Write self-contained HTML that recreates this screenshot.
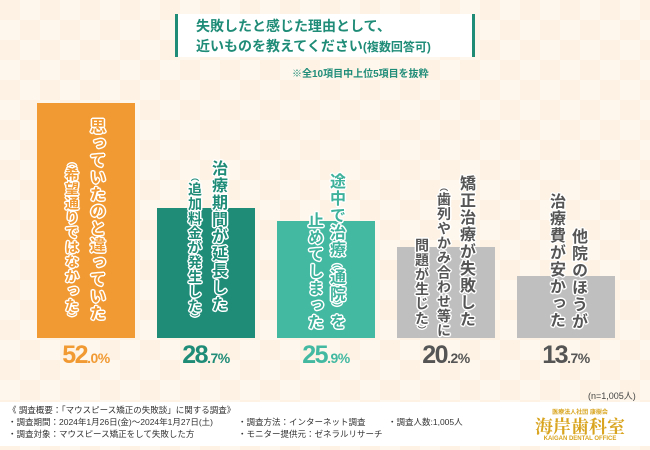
<!DOCTYPE html>
<html><head><meta charset="utf-8"><style>
body{margin:0}
#c{position:relative;width:650px;height:450px;overflow:hidden;background:#fdf2e3;font-family:"Liberation Sans","Noto Sans CJK JP",sans-serif;
background-image:linear-gradient(45deg,rgba(255,255,255,.35) 25%,transparent 25%,transparent 75%,rgba(255,255,255,.35) 75%),linear-gradient(45deg,rgba(255,255,255,.35) 25%,transparent 25%,transparent 75%,rgba(255,255,255,.35) 75%);background-size:40px 40px;background-position:0 0,20px 20px}
.v{position:absolute;writing-mode:vertical-rl;font-weight:bold;white-space:nowrap;line-height:1;
text-shadow:1.5px 0 #fff,-1.5px 0 #fff,0 1.5px #fff,0 -1.5px #fff,1px 1px #fff,-1px -1px #fff,1px -1px #fff,-1px 1px #fff}
.v .p{font-size:60%}
.pct{position:absolute;font-weight:bold;font-size:25px;letter-spacing:-1.5px;text-align:center;width:120px}
.pct small{font-size:14px;letter-spacing:-.5px}
</style></head><body>
<div id="c">
<div style="position:absolute;left:175px;top:14px;width:300px;height:43px;background:#fff;border-left:3px solid #1f8c78;border-right:3px solid #1f8c78;box-sizing:border-box"></div>
<div style="position:absolute;left:196px;top:16px;font-size:14px;font-weight:bold;color:#1f8c78;line-height:20px;white-space:nowrap">失敗したと感じた理由として、<br>近いものを教えてください<span style="font-size:12px">(複数回答可)</span></div>
<div style="position:absolute;left:292px;top:65px;font-size:10px;font-weight:bold;color:#1f8c78">※全10項目中上位5項目を抜粋</div>
<div id="plot"></div>
<div style="position:absolute;left:588px;top:389px;font-size:9px;color:#444">(n=1,005人)</div>
<div style="position:absolute;left:0;top:402px;width:650px;height:44px;background:#fff"></div>
<div style="position:absolute;left:8px;top:404px;font-size:8.5px;line-height:12px;color:#333;white-space:nowrap">《 調査概要：「マウスピース矯正の失敗談」に関する調査》<br>・調査期間：2024年1月26日(金)～2024年1月27日(土)<br>・調査対象：マウスピース矯正をして失敗した方</div>
<div style="position:absolute;left:238px;top:416px;font-size:8.5px;line-height:12px;color:#333;white-space:nowrap">・調査方法：インターネット調査<br>・モニター提供元：ゼネラルリサーチ</div>
<div style="position:absolute;left:388px;top:416px;font-size:8.5px;color:#333">・調査人数:1,005人</div>
<div style="position:absolute;left:520px;top:407px;width:120px;text-align:center;color:#d9a520;font-weight:bold">
<div style="font-size:6px">医療法人社団 康樹会</div><div style="font-size:18px;font-family:'Noto Serif CJK SC',serif;line-height:20px">海岸歯科室</div><div style="font-size:6px">KAIGAN DENTAL OFFICE</div></div>
</div>
<script>
const categories=["思っていたのと違っていた（希望通りではなかった）","治療期間が延長した（追加料金が発生した）","途中で治療（通院）を止めてしまった","矯正治療が失敗した（歯列やかみ合わせ等に問題が生じた）","他院のほうが治療費が安かった"];
const values=[52.0,28.7,25.9,20.2,13.7];
const barColors=["#f19a33","#1f8c78","#43b9a2","#bfbfbf","#bfbfbf"];
const textColors=["#f19a33","#1f8c78","#3fb29c","#555","#555"];
const labelLines=[["思っていたのと違っていた","（希望通りではなかった）"],["治療期間が延長した","（追加料金が発生した）"],["途中で治療（通院）を","止めてしまった"],["矯正治療が失敗した","（歯列やかみ合わせ等に","問題が生じた）"],["他院のほうが","治療費が安かった"]];
const plot=document.getElementById('plot');
const base=338,scale=4.52,x0=37,step=120,bw=98;
const yS=v=>v*scale, xS=i=>x0+i*step;
const lineTops=[[118,158],[160,173],[173,212],[175,183,238],[228,193]];
const lineX=[[95,72],[217,195],[335,313],[465,444,422],[577,555]];
values.forEach((v,i)=>{
 const b=document.createElement('div');
 
 
 const h=yS(v);
 b.style.cssText=`position:absolute;left:${xS(i)}px;top:${base-h}px;width:${bw}px;height:${h}px;background:${barColors[i]}`;
 plot.appendChild(b);
 labelLines[i].forEach((t,j)=>{
  const d=document.createElement('div');
  
  
  d.className='v';
  const sm=(j>0&&(i<2||i==3));
  const fs=sm?14:16;
  const ls=sm?0.6:1;
  d.style.cssText+=`left:${lineX[i][j]-fs/2}px;top:${lineTops[i][j]}px;font-size:${fs}px;color:${textColors[i]};letter-spacing:${ls}px`;
  d.innerHTML=t.replace(/（/g,'<span class="p">（</span>').replace(/）/g,'<span class="p">）</span>');
  plot.appendChild(d);
 });
 const p=document.createElement('div');
 
 
 p.className='pct';
 const s=v.toFixed(1).split('.');
 p.innerHTML=s[0]+'<small>.'+s[1]+'%</small>';
 p.style.left=(xS(i)+bw/2-60)+'px';p.style.top='341px';p.style.color=textColors[i]==="#555"?"#555":barColors[i];
 plot.appendChild(p);
});
</script>
</body></html>
